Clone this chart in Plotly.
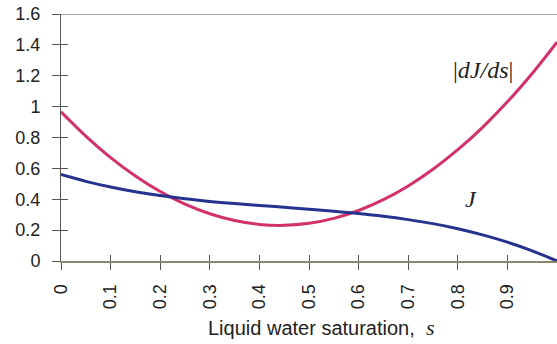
import plotly.graph_objects as go

# Liquid water saturation s
s = [0.0, 0.05, 0.1, 0.15, 0.2, 0.25, 0.3, 0.35, 0.4, 0.45, 0.5,
     0.55, 0.6, 0.65, 0.7, 0.75, 0.8, 0.85, 0.9, 0.95, 1.0]
# J(s)
J = [0.560, 0.516, 0.479, 0.448, 0.424, 0.403, 0.386, 0.372, 0.360, 0.348, 0.336,
     0.323, 0.308, 0.290, 0.268, 0.242, 0.209, 0.169, 0.122, 0.066, 0.0]
# |dJ/ds|
dJds = [0.966, 0.809, 0.670, 0.551, 0.450, 0.368, 0.306, 0.262, 0.237, 0.231, 0.244,
        0.276, 0.327, 0.397, 0.486, 0.594, 0.721, 0.866, 1.031, 1.215, 1.417]

x_ticks = [0, 0.1, 0.2, 0.3, 0.4, 0.5, 0.6, 0.7, 0.8, 0.9, 1]
x_ticktext = ["0", "0.1", "0.2", "0.3", "0.4", "0.5", "0.6", "0.7", "0.8", "0.9", "1"]
y_ticks = [0, 0.2, 0.4, 0.6, 0.8, 1.0, 1.2, 1.4, 1.6]
y_ticktext = ["0", "0.2", "0.4", "0.6", "0.8", "1", "1.2", "1.4", "1.6"]

MAGENTA = "#d3316c"
BLUE = "#25338f"
AXIS = "#555555"
FONT = "Liberation Sans, Arial, sans-serif"
SERIF = "Liberation Serif, Times New Roman, serif"

fig = go.Figure()
fig.add_trace(go.Scatter(x=s, y=dJds, mode="lines", line=dict(color=MAGENTA, width=3, shape="spline"),
                         showlegend=False, hoverinfo="skip"))
fig.add_trace(go.Scatter(x=s, y=J, mode="lines", line=dict(color=BLUE, width=3, shape="spline"),
                         showlegend=False, hoverinfo="skip"))
# invisible trace on overlay axes so the inside ticks render
fig.add_trace(go.Scatter(x=[0], y=[0], xaxis="x2", yaxis="y2", mode="markers",
                         marker=dict(opacity=0), showlegend=False, hoverinfo="skip"))

fig.update_layout(
    width=557, height=344,
    margin=dict(l=61, r=0, t=14, b=83),
    paper_bgcolor="white", plot_bgcolor="white",
    font=dict(family=FONT, size=18, color="#222222"),
    xaxis=dict(range=[0, 1], tickvals=x_ticks, ticktext=x_ticktext, tickangle=-90,
               ticks="outside", ticklen=7, tickcolor=AXIS, tickwidth=1,
               showline=True, linecolor="#8a8670", linewidth=2,
               showgrid=False, zeroline=False, ticklabelstandoff=7,
               tickfont=dict(family=FONT, size=18, color="#222222")),
    yaxis=dict(range=[0, 1.6], tickvals=y_ticks, ticktext=y_ticktext,
               ticks="outside", ticklen=8, tickcolor=AXIS, tickwidth=1,
               showline=True, linecolor=AXIS, linewidth=1,
               showgrid=False, zeroline=False, ticklabelstandoff=8,
               tickfont=dict(family=FONT, size=18, color="#222222")),
    xaxis2=dict(overlaying="x", anchor="y2", side="bottom", range=[0, 1], tickvals=x_ticks,
                ticks="inside", ticklen=6, tickcolor=AXIS, showticklabels=False,
                showline=False, showgrid=False, zeroline=False),
    yaxis2=dict(overlaying="y", anchor="x2", side="left", range=[0, 1.6], tickvals=y_ticks,
                ticks="inside", ticklen=7, tickcolor=AXIS, showticklabels=False,
                showline=False, showgrid=False, zeroline=False),
    shapes=[dict(type="line", xref="paper", yref="y", x0=0, x1=1, y0=1.6, y1=1.6,
                 line=dict(color="#888888", width=1.5))],
    annotations=[
        dict(text="Liquid water saturation,  <span style=\"font-family:Liberation Serif, Times New Roman, serif;font-size:22px\"><i>s</i></span>",
             xref="paper", yref="paper", x=0.524, y=-0.271, xanchor="center", yanchor="middle",
             showarrow=False, font=dict(family=FONT, size=20, color="#222222")),
        dict(text="|<i>dJ/ds</i>|", xref="x", yref="y", x=0.851, y=1.24,
             xanchor="center", yanchor="middle", showarrow=False,
             font=dict(family=SERIF, size=24, color="#222222")),
        dict(text="<i>J</i>", xref="x", yref="y", x=0.826, y=0.40,
             xanchor="center", yanchor="middle", showarrow=False,
             font=dict(family=SERIF, size=24, color="#222222")),
    ],
)

fig.write_html("out.html")
